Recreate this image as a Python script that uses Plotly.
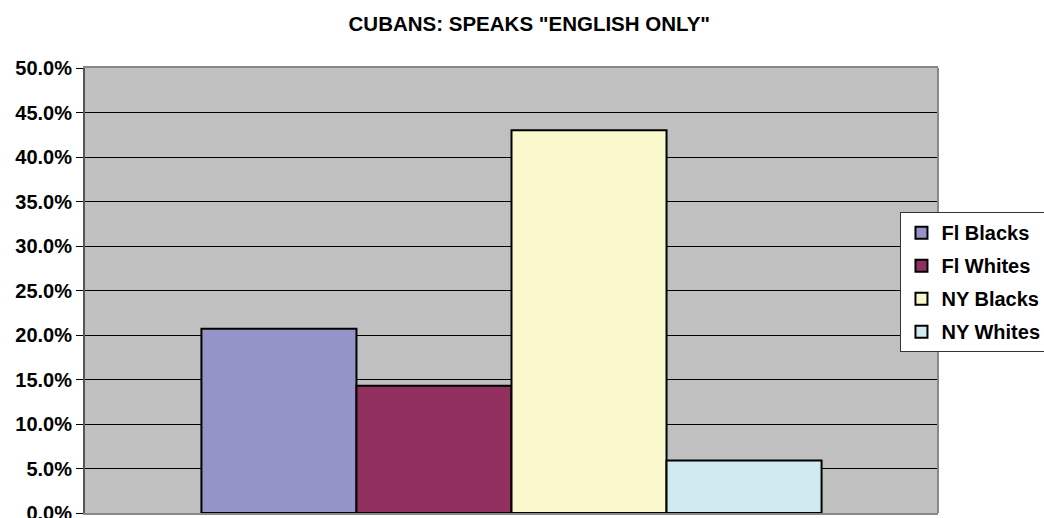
import plotly.graph_objects as go

# Share of Cubans who speak "English only", by state and race
category = ["Cubans"]
groups = ["Fl Blacks", "Fl Whites", "NY Blacks", "NY Whites"]
shares = [0.207, 0.143, 0.430, 0.059]
colors = ["#9494C8", "#91305F", "#FAF8CD", "#CFEBEF"]

y_ticks = [0.0, 0.05, 0.10, 0.15, 0.20, 0.25, 0.30, 0.35, 0.40, 0.45, 0.50]

FONT = "Liberation Sans, Arial, sans-serif"

fig = go.Figure()
for name, val, col in zip(groups, shares, colors):
    fig.add_trace(go.Bar(
        x=category,
        y=[val],
        name=f"<b>{name}</b>",
        legendgroup=name,
        marker=dict(color=col, line=dict(color="#000000", width=2)),
        hoverinfo="name+y",
    ))

fig.update_layout(
    width=1044,
    height=518,
    margin=dict(l=85, r=106, t=68, b=5, autoexpand=False),
    paper_bgcolor="#FFFFFF",
    plot_bgcolor="#C0C0C0",
    barmode="group",
    bargap=0.273,
    bargroupgap=0,
    font=dict(family=FONT, size=20, color="#000000"),
    title=dict(
        text="<b>CUBANS: SPEAKS \"ENGLISH ONLY\"</b>",
        x=0.507, xanchor="center",
        yref="container", y=1 - 24 / 518, yanchor="middle",
        font=dict(family=FONT, size=20.5, color="#000000"),
    ),
    legend=dict(
        x=0.956, xanchor="left",
        y=0.676, yanchor="top",
        bgcolor="#FFFFFF",
        bordercolor="#333333",
        borderwidth=1,
        traceorder="grouped",
        tracegroupgap=4,
        font=dict(family=FONT, size=20, color="#000000"),
    ),
    xaxis=dict(
        showticklabels=False,
        ticks="",
        showgrid=False,
        showline=True,
        linecolor="#888888",
        linewidth=2,
        mirror=True,
        zeroline=False,
    ),
    yaxis=dict(
        range=[0, 0.5],
        tickvals=y_ticks,
        ticktext=[f"<b>{v * 100:.1f}%</b>" for v in y_ticks],
        ticks="outside",
        ticklen=7,
        tickwidth=1,
        tickcolor="#000000",
        ticklabeloverflow="allow",
        automargin=False,
        showgrid=True,
        gridcolor="#000000",
        gridwidth=1,
        showline=True,
        linecolor="#555555",
        linewidth=2,
        zeroline=False,
        tickfont=dict(family=FONT, size=20, color="#000000"),
    ),
    shapes=[dict(
        type="line", xref="paper", yref="paper",
        x0=1, x1=1, y0=0, y1=1,
        line=dict(color="#888888", width=2),
    )],
)

fig.write_html("out.html")
